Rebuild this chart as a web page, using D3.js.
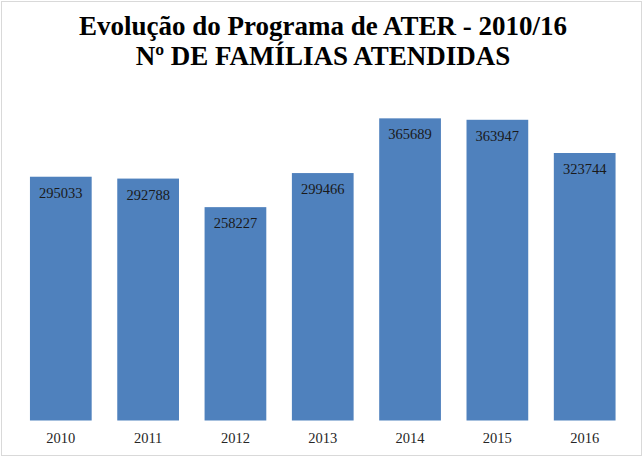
<!DOCTYPE html>
<html>
<head>
<meta charset="utf-8">
<script src="https://cdn.jsdelivr.net/npm/d3@7"></script>
<style>
  body { margin: 0; background: #fff; }
  svg { display: block; }
</style>
</head>
<body>
<svg id="chart" width="644" height="460"></svg>
<script>
// data
const years = ["2010", "2011", "2012", "2013", "2014", "2015", "2016"];
const familias = [295033, 292788, 258227, 299466, 365689, 363947, 323744];
const titleLines = ["Evolução do Programa de ATER - 2010/16", "Nº DE FAMÍLIAS ATENDIDAS"];

const svg = d3.select("#chart");
const serif = "'Liberation Serif', 'Times New Roman', serif";

// outer frame
svg.append("rect")
    .attr("x", 1.5).attr("y", 1.5)
    .attr("width", 640).attr("height", 454)
    .attr("fill", "#fff")
    .attr("stroke", "#d9d9d9")
    .attr("stroke-width", 1);

// title
svg.append("g").selectAll("text")
    .data(titleLines)
    .enter()
    .append("text")
    .attr("x", 323)
    .attr("y", (d, i) => 35 + i * 30)
    .attr("text-anchor", "middle")
    .attr("font-family", serif)
    .attr("font-weight", "bold")
    .attr("font-size", 27)
    .attr("fill", "#000")
    .text(d => d);

// scales
const x = d3.scaleBand()
    .domain(years)
    .range([17.2, 628.3])
    .paddingInner(0.293)
    .paddingOuter(0.146);

const y = d3.scaleLinear()
    .domain([0, 400000])
    .range([420.5, 90]);

// bars
svg.append("g").selectAll("rect")
    .data(familias)
    .enter()
    .append("rect")
    .attr("x", (d, i) => x(years[i]))
    .attr("y", d => y(d))
    .attr("width", x.bandwidth())
    .attr("height", d => y(0) - y(d))
    .attr("fill", "#4f81bd");

// value labels inside the top of each bar
svg.append("g").selectAll("text")
    .data(familias)
    .enter()
    .append("text")
    .attr("x", (d, i) => x(years[i]) + x.bandwidth() / 2)
    .attr("y", d => y(d) + 21)
    .attr("text-anchor", "middle")
    .attr("font-family", serif)
    .attr("font-size", 14.5)
    .attr("fill", "#1a1a1a")
    .text(d => d);

// x axis (labels only)
const xAxis = svg.append("g")
    .attr("transform", "translate(0,420.5)")
    .call(d3.axisBottom(x).tickSize(0).tickPadding(12));
xAxis.select(".domain").remove();
xAxis.selectAll("text")
    .attr("font-family", serif)
    .attr("font-size", 14.5)
    .attr("fill", "#262626");
</script>
</body>
</html>
